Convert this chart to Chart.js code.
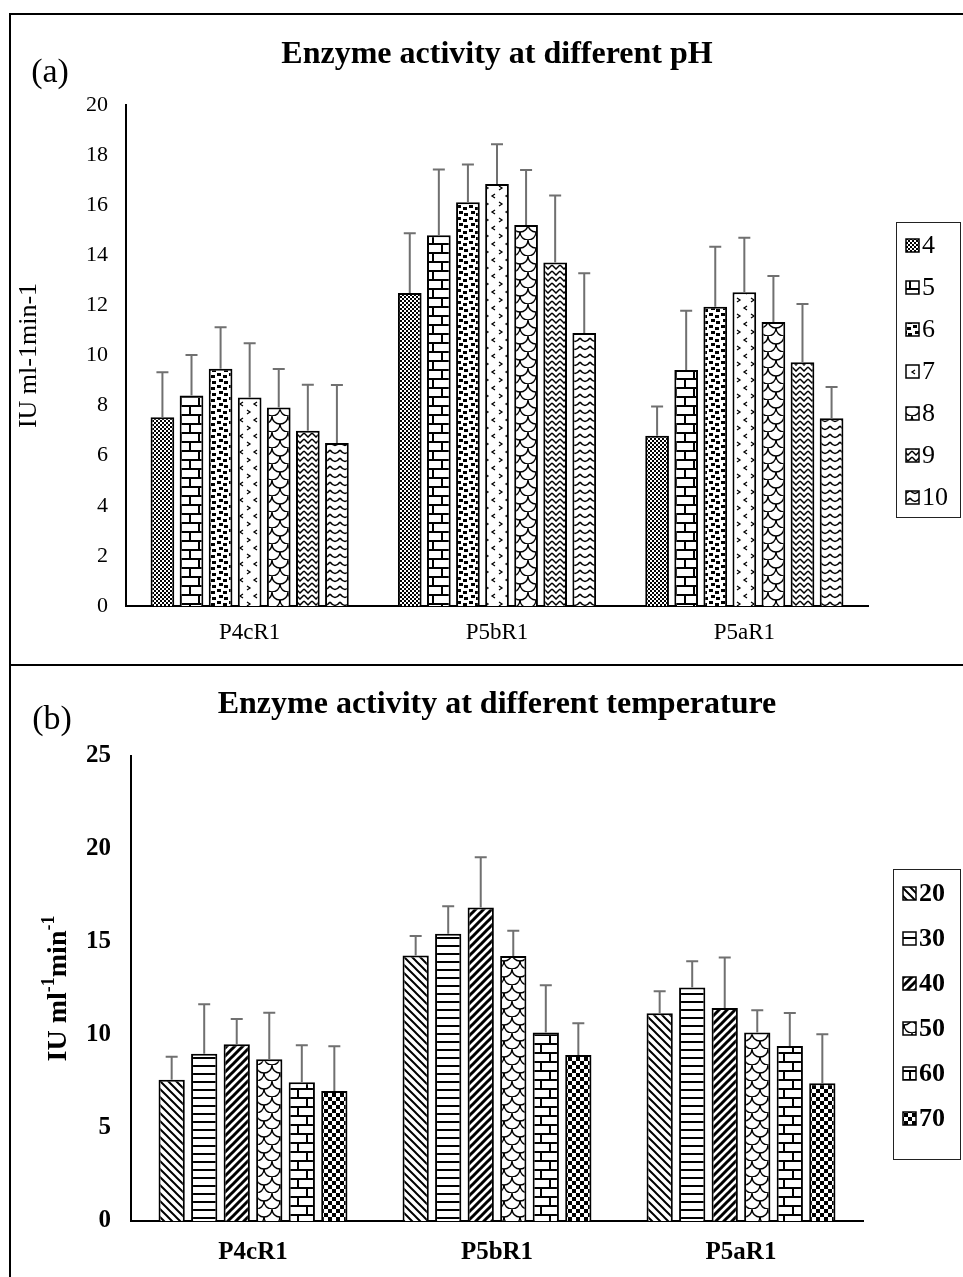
<!DOCTYPE html>
<html><head><meta charset="utf-8">
<script src="https://cdn.jsdelivr.net/npm/chart.js@4.4.1/dist/chart.umd.min.js"></script>
<style>
html,body{margin:0;padding:0;background:#fff;}
#wrap{position:relative;width:963px;height:1277px;overflow:hidden;background:#fff;}
#ca{position:absolute;left:0;top:0;}
#cb{position:absolute;left:0;top:665px;}
.ln{position:absolute;background:#000;}
</style></head><body>
<div id="wrap">
<canvas id="ca" width="963" height="665"></canvas>
<canvas id="cb" width="963" height="612"></canvas>
<div class="ln" style="left:9px;top:13px;width:954px;height:2px"></div>
<div class="ln" style="left:9px;top:13px;width:2px;height:1264px"></div>
<div class="ln" style="left:9px;top:664px;width:954px;height:2px"></div>
</div>
<script>
// ---------- data ----------
const categories = ['P4cR1', 'P5bR1', 'P5aR1'];

const phLabels = ['4', '5', '6', '7', '8', '9', '10'];
const ph4  = [7.53, 12.50, 6.80];   const ph4Err  = [1.80, 2.38, 1.16];
const ph5  = [8.40, 14.80, 9.42];   const ph5Err  = [1.62, 2.63, 2.37];
const ph6  = [9.47, 16.12, 11.95];  const ph6Err  = [1.66, 1.50, 2.39];
const ph7  = [8.32, 16.85, 12.52];  const ph7Err  = [2.17, 1.58, 2.18];
const ph8  = [7.92, 15.21, 11.34];  const ph8Err  = [1.54, 2.20, 1.83];
const ph9  = [7.00, 13.71, 9.73];   const ph9Err  = [1.83, 2.68, 2.33];
const ph10 = [6.51, 10.90, 7.50];   const ph10Err = [2.31, 2.38, 1.24];

const tempLabels = ['20', '30', '40', '50', '60', '70'];
const t20 = [7.60, 14.27, 11.17];  const t20Err = [1.23, 1.05, 1.18];
const t30 = [8.99, 15.45, 12.56];  const t30Err = [2.66, 1.47, 1.40];
const t40 = [9.50, 16.86, 11.45];  const t40Err = [1.36, 2.69, 2.71];
const t50 = [8.69, 14.25, 10.13];  const t50Err = [2.51, 1.36, 1.20];
const t60 = [7.46, 10.13, 9.41];   const t60Err = [1.99, 2.54, 1.77];
const t70 = [6.99, 8.92, 7.40];    const t70Err = [2.40, 1.71, 2.64];

const phAxis = { min: 0, max: 20, step: 2 };
const tempAxis = { min: 0, max: 25, step: 5 };

const titleA = 'Enzyme activity at different pH';
const titleB = 'Enzyme activity at different temperature';
const yTitleA = 'IU ml-1min-1';

// ---------- patterns ----------
function tile(w, h, fn) {
  const c = document.createElement('canvas');
  c.width = w; c.height = h;
  const g = c.getContext('2d');
  g.fillStyle = '#fff'; g.fillRect(0, 0, w, h);
  g.fillStyle = '#000'; g.strokeStyle = '#000';
  fn(g, w, h);
  return g.createPattern(c, 'repeat');
}
const PAT = {
  check2: tile(4, 4, g => { g.fillRect(0, 0, 2, 2); g.fillRect(2, 2, 2, 2); }),
  brick: tile(18, 18, g => { g.fillRect(0, 0, 18, 2); g.fillRect(0, 9, 18, 2); g.fillRect(0, 0, 2, 9); g.fillRect(9, 9, 2, 9); }),
  confetti: tile(12, 12, g => { [[1,1],[7,3],[3,7],[8,9]].forEach(([x,y]) => g.fillRect(x, y, 4, 3)); }),
  sparse: tile(14, 16, g => { g.lineWidth = 1.3; g.beginPath(); g.moveTo(5,2); g.lineTo(2,4); g.lineTo(5,6); g.moveTo(9,10); g.lineTo(12,12); g.lineTo(9,14); g.stroke(); }),
  scallop: tile(16, 16, g => { g.lineWidth = 1.4; g.beginPath(); g.arc(8,0,8,0,Math.PI); g.stroke(); g.beginPath(); g.arc(0,8,8,0,Math.PI/2); g.stroke(); g.beginPath(); g.arc(16,8,8,Math.PI/2,Math.PI); g.stroke(); }),
  zigzag: tile(8, 6, g => { g.lineWidth = 1.5; g.beginPath(); g.moveTo(0,1); g.lineTo(4,5); g.lineTo(8,1); g.stroke(); }),
  wave: tile(10, 8, g => { g.lineWidth = 1.6; g.beginPath(); g.moveTo(0,2); g.quadraticCurveTo(5,9,10,2); g.stroke(); }),
  diagDown: tile(8, 8, g => { g.lineWidth = 2; g.beginPath(); g.moveTo(-2,-2); g.lineTo(10,10); g.moveTo(-2,6); g.lineTo(2,10); g.moveTo(6,-2); g.lineTo(10,2); g.stroke(); }),
  diagUp: tile(8, 8, g => { g.lineWidth = 3; g.beginPath(); g.moveTo(-2,10); g.lineTo(10,-2); g.moveTo(-2,2); g.lineTo(2,-2); g.moveTo(6,10); g.lineTo(10,6); g.stroke(); }),
  hlines: tile(8, 8, g => { g.fillRect(0, 0, 8, 2); }),
  check4: tile(8, 8, g => { g.fillRect(0, 0, 4, 4); g.fillRect(4, 4, 4, 4); })
};

const phSeries = [ph4, ph5, ph6, ph7, ph8, ph9, ph10];
const phErrs = [ph4Err, ph5Err, ph6Err, ph7Err, ph8Err, ph9Err, ph10Err];
const phPats = [PAT.check2, PAT.brick, PAT.confetti, PAT.sparse, PAT.scallop, PAT.zigzag, PAT.wave];
const tSeries = [t20, t30, t40, t50, t60, t70];
const tErrs = [t20Err, t30Err, t40Err, t50Err, t60Err, t70Err];
const tPats = [PAT.diagDown, PAT.hlines, PAT.diagUp, PAT.scallop, PAT.brick, PAT.check4];

const SERIF = "'Liberation Serif', 'Times New Roman', serif";

// ---------- plugins ----------
const errorBars = {
  id: 'errorBars',
  afterDatasetsDraw(chart) {
    const { ctx } = chart; const y = chart.scales.y;
    ctx.save(); ctx.strokeStyle = '#707070'; ctx.lineWidth = 2;
    chart.data.datasets.forEach((ds, i) => {
      chart.getDatasetMeta(i).data.forEach((bar, j) => {
        const yt = y.getPixelForValue(ds.data[j] + ds.errPlus[j]);
        ctx.beginPath();
        ctx.moveTo(bar.x, bar.y); ctx.lineTo(bar.x, yt);
        ctx.moveTo(bar.x - 6, yt); ctx.lineTo(bar.x + 6, yt);
        ctx.stroke();
      });
    });
    ctx.restore();
  }
};

const decor = {
  id: 'decor',
  afterDraw(chart, args, o) {
    const { ctx, chartArea } = chart;
    ctx.save();
    ctx.fillStyle = '#000';
    ctx.textAlign = 'center'; ctx.textBaseline = 'middle';
    ctx.font = 'bold ' + o.titleSize + 'px ' + SERIF;
    ctx.fillText(o.title, (chartArea.left + chartArea.right) / 2, o.titleY);
    ctx.font = o.panelSize + 'px ' + SERIF;
    ctx.fillText(o.panel, o.panelX, o.panelY);
    // legend
    const L = o.legend;
    ctx.strokeStyle = '#222'; ctx.lineWidth = 1;
    ctx.strokeRect(L.x0 + 0.5, L.y0 + 0.5, L.x1 - L.x0, L.y1 - L.y0);
    ctx.textAlign = 'left';
    ctx.font = L.font;
    chart.data.datasets.forEach((ds, i) => {
      const cy = L.first + i * L.step;
      ctx.fillStyle = ds.backgroundColor;
      ctx.fillRect(L.boxX, cy - 6, 13, 13);
      ctx.strokeStyle = '#000'; ctx.lineWidth = 1.5;
      ctx.strokeRect(L.boxX, cy - 6, 13, 13);
      ctx.fillStyle = '#000';
      ctx.fillText(ds.label, L.textX, cy + 1);
    });
    // custom y title with superscripts
    if (o.yTitle) {
      const Y = o.yTitle;
      ctx.translate(Y.x, (chartArea.top + chartArea.bottom) / 2);
      ctx.rotate(-Math.PI / 2);
      ctx.textBaseline = 'alphabetic';
      const big = 'bold ' + Y.size + 'px ' + SERIF, small = 'bold ' + Math.round(Y.size * 0.66) + 'px ' + SERIF;
      const parts = [['IU ml', big, 0], ['-1', small, -Y.size * 0.42], ['min', big, 0], ['-1', small, -Y.size * 0.42]];
      let total = 0;
      parts.forEach(p => { ctx.font = p[1]; total += ctx.measureText(p[0]).width; });
      let x = -total / 2;
      parts.forEach(p => { ctx.font = p[1]; ctx.fillText(p[0], x, p[2] + Y.size * 0.33); x += ctx.measureText(p[0]).width; });
    }
    ctx.restore();
  }
};

function makeChart(id, labels, series, errs, pats, axis, cfg) {
  const datasets = series.map((d, i) => ({
    label: labels[i], data: d, errPlus: errs[i],
    backgroundColor: pats[i], borderColor: '#000', borderWidth: 2,
    categoryPercentage: cfg.cp, barPercentage: cfg.bp
  }));
  return new Chart(document.getElementById(id), {
    type: 'bar',
    data: { labels: categories, datasets },
    plugins: [errorBars, decor],
    options: {
      responsive: false, animation: false, devicePixelRatio: 1,
      layout: { padding: { top: cfg.top, right: cfg.right, left: 0, bottom: 0 } },
      plugins: { legend: { display: false }, tooltip: { enabled: false }, decor: cfg.decor },
      scales: {
        x: {
          grid: { display: false, drawTicks: false },
          border: { display: true, color: '#000', width: 2 },
          ticks: { color: '#000', padding: cfg.xPad, font: { family: SERIF, size: cfg.xSize, weight: cfg.bold ? 'bold' : 'normal' } },
          afterFit: s => { s.height = cfg.xH; }
        },
        y: {
          min: axis.min, max: axis.max,
          grid: { display: false, drawTicks: false },
          border: { display: true, color: '#000', width: 2 },
          ticks: { stepSize: axis.step, color: '#000', padding: cfg.yPad, font: { family: SERIF, size: cfg.ySize, weight: cfg.bold ? 'bold' : 'normal' } },
          title: cfg.yTitle,
          afterFit: s => { s.width = cfg.yW; }
        }
      }
    }
  });
}

makeChart('ca', phLabels, phSeries, phErrs, phPats, phAxis, {
  cp: 0.823, bp: 0.815, top: 105, right: 95, xH: 59, yW: 126, xPad: 13, yPad: 18,
  xSize: 23, ySize: 22, bold: false,
  yTitle: { display: true, text: yTitleA, color: '#000', font: { family: SERIF, size: 26 }, padding: { top: 14, bottom: 0 } },
  decor: {
    title: titleA, titleSize: 32, titleY: 55, panel: '(a)', panelSize: 34, panelX: 50, panelY: 73,
    legend: { x0: 896, y0: 222, x1: 960, y1: 517, boxX: 906, textX: 922, first: 245, step: 42, font: '26px ' + SERIF }
  }
});

makeChart('cb', tempLabels, tSeries, tErrs, tPats, tempAxis, {
  cp: 0.80, bp: 0.807, top: 91, right: 100, xH: 56, yW: 131, xPad: 17, yPad: 20,
  xSize: 25, ySize: 25, bold: true,
  yTitle: { display: false },
  decor: {
    title: titleB, titleSize: 32, titleY: 40, panel: '(b)', panelSize: 34, panelX: 52, panelY: 55,
    legend: { x0: 893, y0: 204, x1: 960, y1: 494, boxX: 903, textX: 919, first: 228, step: 45, font: 'bold 26px ' + SERIF },
    yTitle: { x: 57, size: 28 }
  }
});
</script>
</body></html>
